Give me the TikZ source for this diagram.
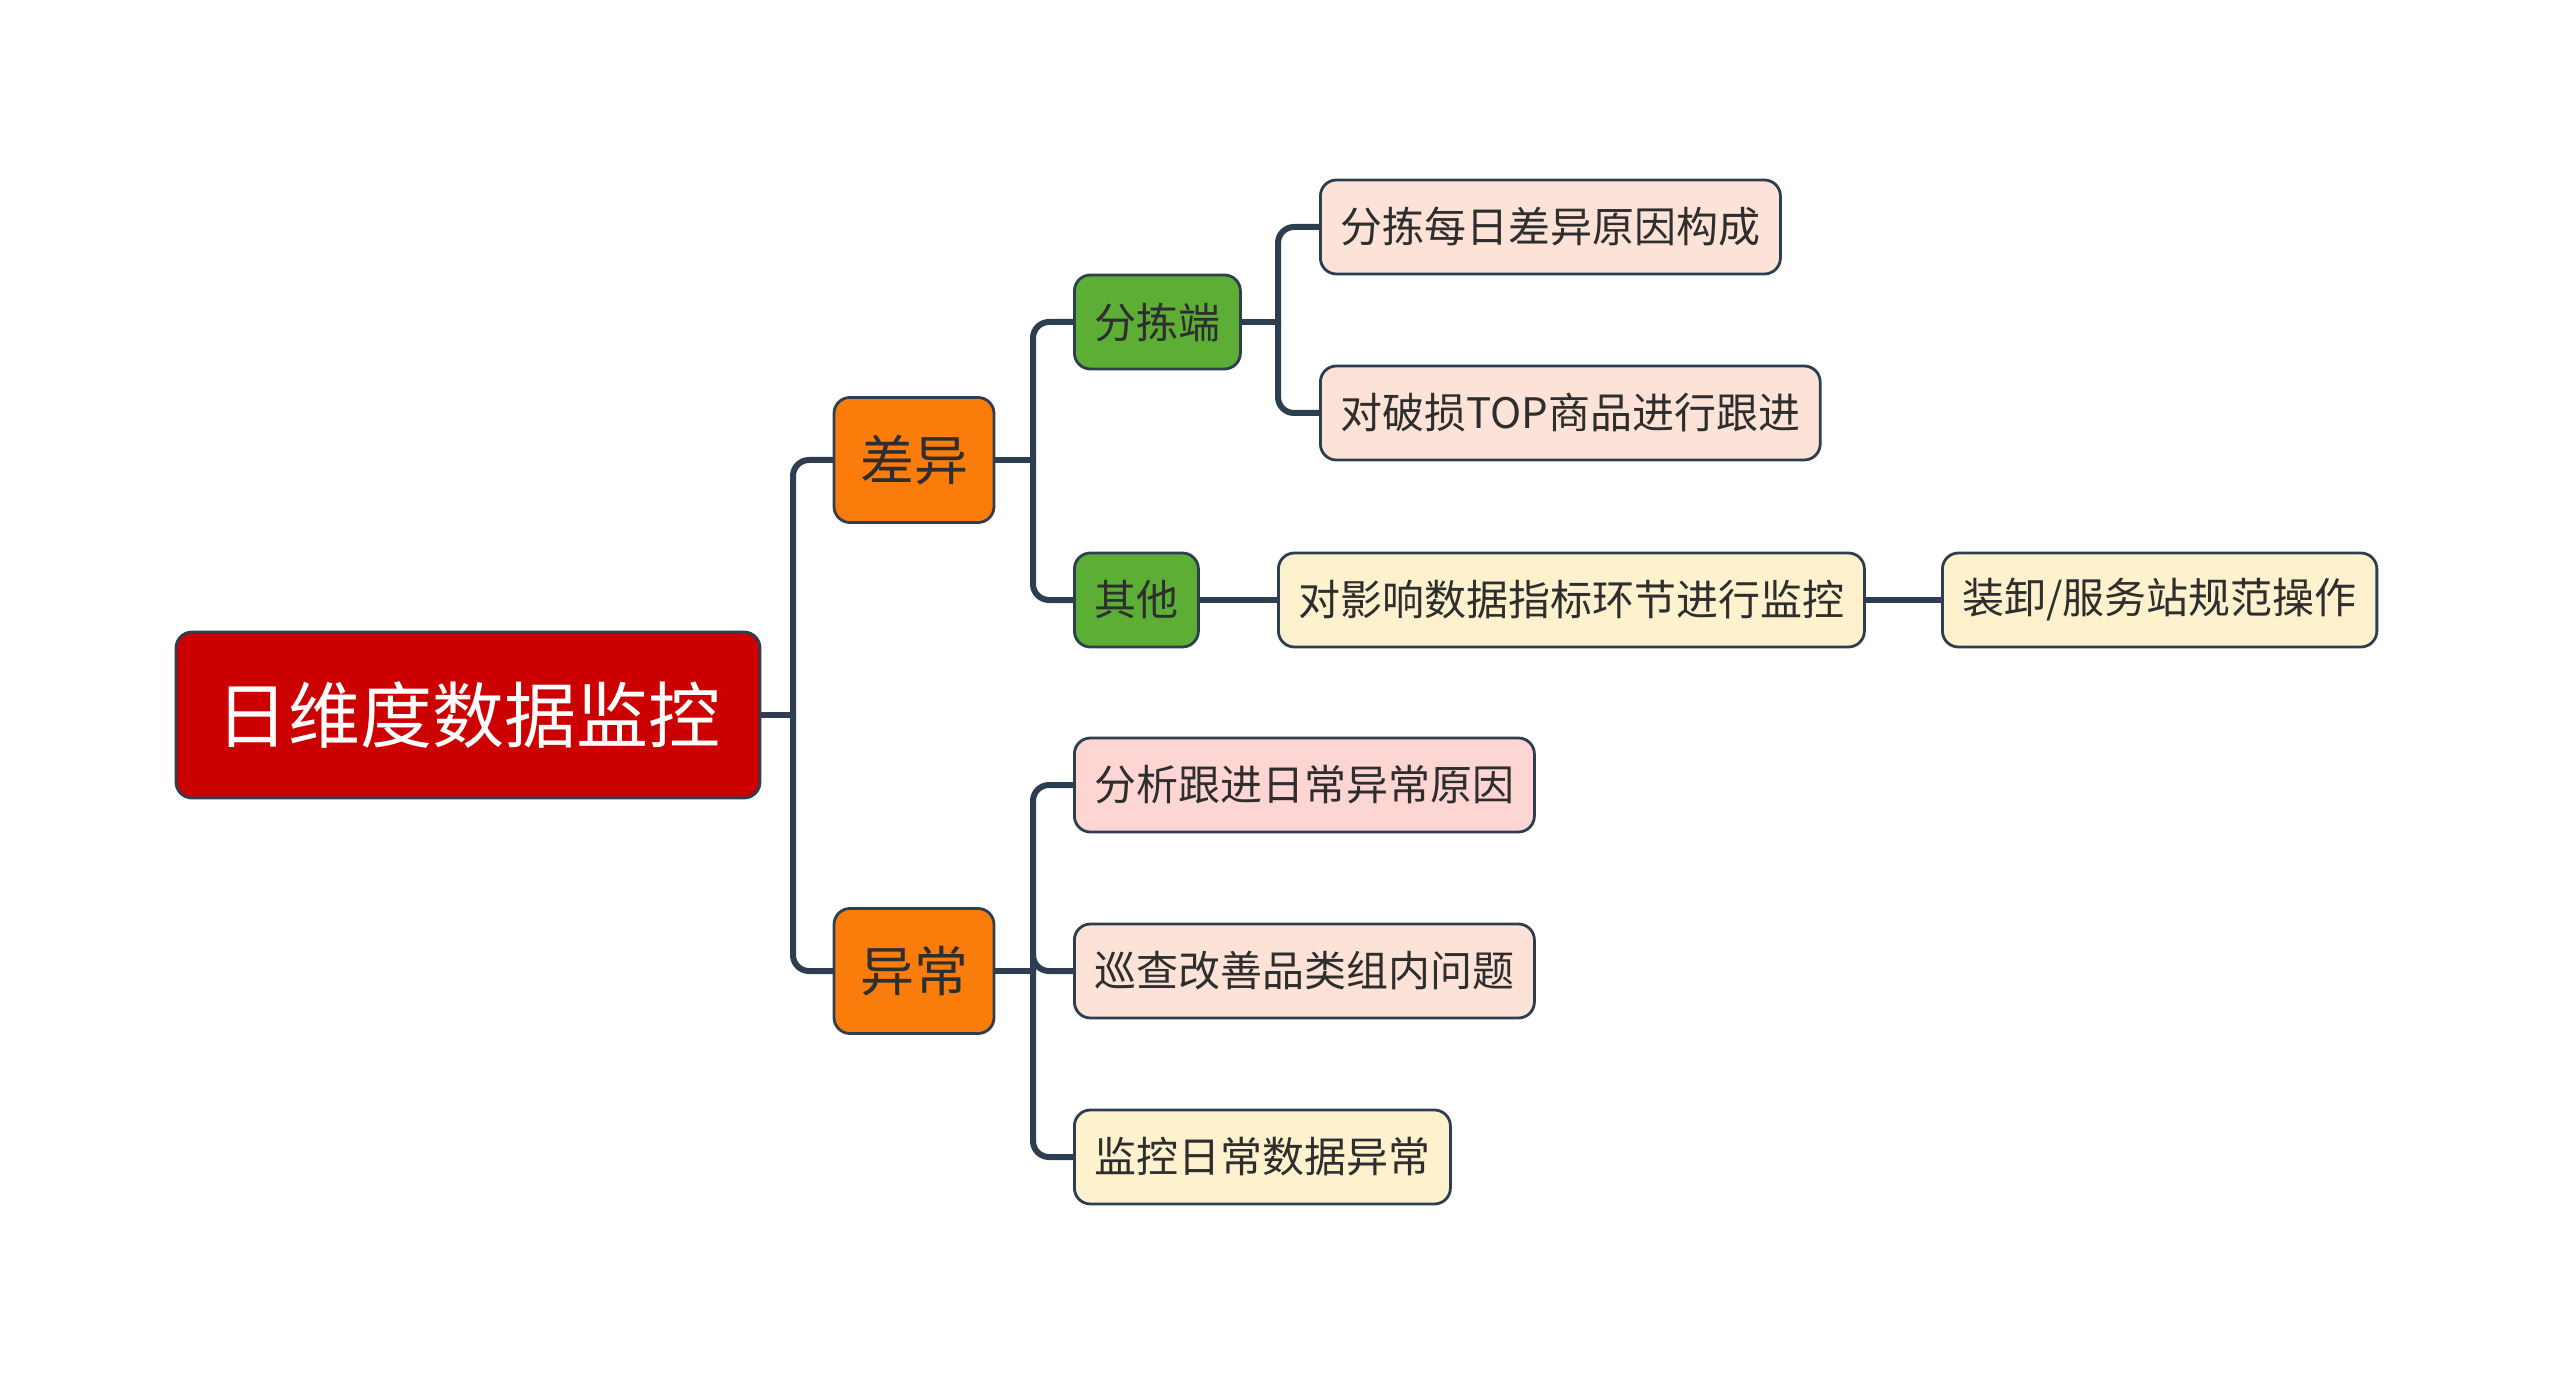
\documentclass[tikz,border=0pt]{standalone}
\usepackage{fontspec}
\setmainfont{Noto Sans CJK SC}
\usetikzlibrary{backgrounds}
\definecolor{linegray}{HTML}{2C3E50}
\definecolor{rootred}{HTML}{CC0000}
\definecolor{topicorange}{HTML}{FA7D0C}
\definecolor{subgreen}{HTML}{5CAE34}
\definecolor{leafpeach}{HTML}{FDE3D7}
\definecolor{leafpink}{HTML}{FDD5D3}
\definecolor{leafcream}{HTML}{FDF2CD}
\begin{document}
\begin{tikzpicture}[x=0.5pt, y=-0.5pt,
        box/.style={rectangle, rounded corners=8pt, draw=linegray, line width=1.4pt, text=black!82,
            font=\fontsize{21}{25}\selectfont, minimum height=47pt, inner xsep=10pt},
        root/.style={box, fill=rootred, text=white, font=\fontsize{36}{40}\selectfont, minimum height=83pt, inner xsep=20pt},
        topic/.style={box, fill=topicorange, font=\fontsize{27}{32}\selectfont, minimum height=62.5pt, inner xsep=13pt},
        sub/.style={box, fill=subgreen, anchor=west},
        leaf/.style={box, anchor=west},
        link/.style={draw=linegray, line width=3pt, rounded corners=8pt, line cap=round}]
    \useasboundingbox (0,0) rectangle (2560,1385);
    % nodes
    \node[root] (root) at (468,715) {日维度数据监控};
    \node[topic] (diff) at (914,460) {差异};
    \node[topic] (abn) at (914,971) {异常};
    \node[sub] (sort) at (1073,322) {分拣端};
    \node[sub] (other) at (1073,600) {其他};
    \node[leaf, fill=leafpeach] (sort1) at (1319,227) {分拣每日差异原因构成};
    \node[leaf, fill=leafpeach] (sort2) at (1319,413) {对破损TOP商品进行跟进};
    \node[leaf, fill=leafcream] (other1) at (1277,600) {对影响数据指标环节进行监控};
    \node[leaf, fill=leafcream] (other2) at (1941,600) {装卸/服务站规范操作};
    \node[leaf, fill=leafpink] (abn1) at (1073,785) {分析跟进日常异常原因};
    \node[leaf, fill=leafpeach] (abn2) at (1073,971) {巡查改善品类组内问题};
    \node[leaf, fill=leafcream] (abn3) at (1073,1157) {监控日常数据异常};
    % junctions
    \coordinate (rootj) at (793,715);
    \coordinate (diffj) at (1033,460);
    \coordinate (abnj) at (1033,971);
    \coordinate (sortj) at (1278,322);
    \begin{scope}[on background layer]
        \draw[link] (root.east) -- (rootj);
        \draw[link] (rootj) |- (diff.west);
        \draw[link] (rootj) |- (abn.west);
        \draw[link] (diff.east) -- (diffj);
        \draw[link] (diffj) |- (sort.west);
        \draw[link] (diffj) |- (other.west);
        \draw[link] (sort.east) -- (sortj);
        \draw[link] (sortj) |- (sort1.west);
        \draw[link] (sortj) |- (sort2.west);
        \draw[link] (other.east) -- (other1.west);
        \draw[link] (other1.east) -- (other2.west);
        \draw[link] (abn.east) -- (abnj);
        \draw[link] (abnj) |- (abn1.west);
        \draw[link] (abnj) |- (abn2.west);
        \draw[link] (abnj) |- (abn3.west);
    \end{scope}
\end{tikzpicture}
\end{document}
